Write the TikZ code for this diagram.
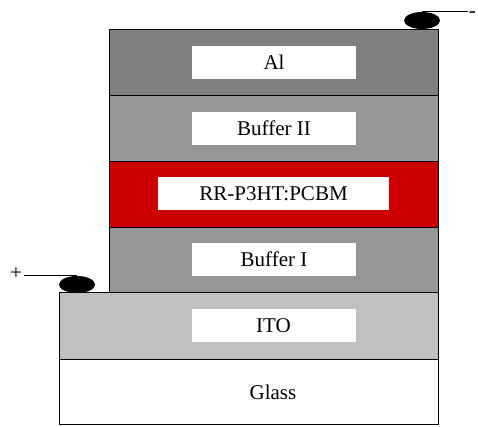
\documentclass[tikz,border=0pt]{standalone}
\usepackage{fontspec}
\setmainfont{Liberation Serif}
\usetikzlibrary{shapes.geometric}
\definecolor{algray}{HTML}{808080}
\definecolor{bufgray}{HTML}{969696}
\definecolor{itogray}{HTML}{C0C0C0}
\definecolor{activered}{HTML}{CC0000}
\tikzset{
  layer/.style={draw=black, line width=1pt},
  labelbox/.style={fill=white, minimum width=164pt, minimum height=33pt, inner sep=0pt, font=\fontsize{21}{24}\selectfont},
  contact/.style={ellipse, fill=black, minimum width=36pt, minimum height=17pt, inner sep=0pt},
  sign/.style={inner sep=2pt, font=\fontsize{21}{24}\selectfont},
}
\begin{document}
\begin{tikzpicture}[x=1pt,y=-1pt]
    \useasboundingbox (0,0) rectangle (478,426);
    % substrate
    \draw[layer, fill=white] (59,359) rectangle (438,424);
    \draw[layer, fill=itogray] (59,292) rectangle (438,359);
    % stack
    \draw[layer, fill=algray] (109,29) rectangle (438,95);
    \draw[layer, fill=bufgray] (109,95) rectangle (438,161);
    \draw[layer, fill=activered] (109,161) rectangle (438,227);
    \draw[layer, fill=bufgray] (109,227) rectangle (438,292);

    \node[labelbox] (al) at (274,62.5) {Al}; % cathode
    \node[labelbox] (buf2) at (274,128) {Buffer II};
    \node[labelbox, minimum width=231pt] (active) at (273.5,193.5) {RR-P3HT:PCBM};
    \node[labelbox] (buf1) at (274,259.5) {Buffer I};
    \node[labelbox] (ito) at (273.5,325.5) {ITO}; % anode
    \node[font=\fontsize{21}{24}\selectfont] (glass) at (273,392) {Glass};

    % contacts
    \node[contact] (elecL) at (77,284.5) {};
    \node[contact] (elecR) at (422,20.5) {};
    \node[sign] (plus) at (16,274) {+};
    \node[sign, anchor=base east, inner sep=0pt] (minus) at (476,17.5) {-};
    \draw[line width=0.8pt] (plus.east |- elecL.north) -- (elecL.north);
    \draw[line width=0.8pt] (elecR.north) -- ([xshift=-1pt]elecR.north -| minus.west);
\end{tikzpicture}
\end{document}
